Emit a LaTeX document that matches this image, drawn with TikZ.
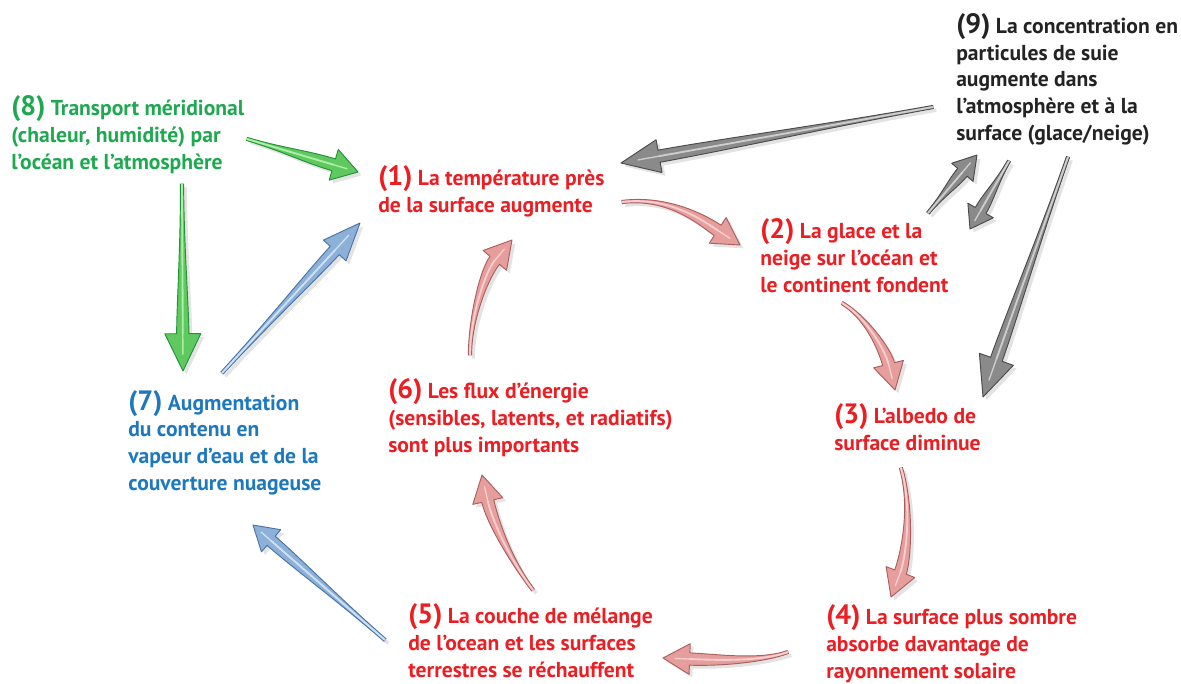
\documentclass[tikz,border=0pt]{standalone}
\usepackage{fontspec}
\setmainfont{PT Sans}
\usetikzlibrary{calc,shadows}
\definecolor{cred}{RGB}{235,30,35}
\definecolor{cgreen}{RGB}{30,168,80}
\definecolor{cblue}{RGB}{30,120,190}
\definecolor{cblack}{RGB}{35,35,35}
\definecolor{pkfill}{RGB}{230,158,156}
\definecolor{pkedge}{RGB}{170,95,95}
\definecolor{pkhi}{RGB}{248,205,205}
\definecolor{gyfill}{RGB}{138,138,138}
\definecolor{gyedge}{RGB}{75,75,75}
\definecolor{gyhi}{RGB}{205,205,205}
\definecolor{gnfill}{RGB}{95,200,95}
\definecolor{gnedge}{RGB}{35,145,60}
\definecolor{gnhi}{RGB}{175,238,165}
\definecolor{blfill}{RGB}{140,176,216}
\definecolor{bledge}{RGB}{75,115,165}
\definecolor{blhi}{RGB}{205,225,245}
\def\wa{1.2pt}
\def\wb{4.6pt}
% #1 colour set, #2 tail, #3 control 1, #4 control 2, #5 tip, #6 head length, #7 head half width
\newcommand\fatarrow[7]{%
  \path ($(#5)!#6!(#4)$) coordinate (fH)
        ($(#2)!\wa!90:(#3)$) coordinate (fAl)
        ($(#2)!\wa!-90:(#3)$) coordinate (fAr)
        ($(#3)!\wa!-90:(#2)$) coordinate (fC1l)
        ($(#3)!\wa!90:(#2)$) coordinate (fC1r)
        ($(#4)!\wb!90:(#5)$) coordinate (fC2l)
        ($(#4)!\wb!-90:(#5)$) coordinate (fC2r);
  \path ($(fH)!\wb!90:(#5)$) coordinate (fHl0)
        ($(fH)!\wb!-90:(#5)$) coordinate (fHr0)
        ($(fH)!#7!90:(#5)$) coordinate (fHl)
        ($(fH)!#7!-90:(#5)$) coordinate (fHr);
  \filldraw[fill=#1fill, draw=#1edge, line width=0.7pt, line join=round,
     drop shadow={shadow xshift=2.5pt, shadow yshift=-2.5pt, opacity=0.22}]
     (fAl) .. controls (fC1l) and (fC2l) .. (fHl0) -- (fHl) -- (#5) -- (fHr) -- (fHr0)
     .. controls (fC2r) and (fC1r) .. (fAr) -- cycle;
  \draw[#1hi, line width=1.4pt, line cap=round] (#2) .. controls (#3) and (#4) .. (fH);
  \draw[#1hi, line width=1pt, line cap=round] (fH) -- ($(fH)!0.55!(#5)$);
}
\tikzset{
  lbl/.style={anchor=base west, align=left, inner sep=0pt,
    font=\bfseries\fontsize{16.2}{19.9}\selectfont},
}
\newcommand\num[1]{{\fontsize{21}{20}\selectfont(#1)}}
\begin{document}
\begin{tikzpicture}[x=0.75pt,y=-0.75pt]
\useasboundingbox (0,0) rectangle (1181,683);
% text nodes (anchored at the baseline of their last line)
\node[lbl, text=cblack] (n9) at (956,140) {\num{9} La concentration en\\particules de suie\\augmente dans\\l’atmosphère et à la\\surface (glace/neige)};
\node[lbl, text=cgreen] (n8) at (11,169) {\num{8} Transport méridional\\(chaleur, humidité) par\\l’océan et l’atmosphère};
\node[lbl, text=cred] (n1) at (378,212) {\num{1} La température près\\de la surface augmente};
\node[lbl, text=cred] (n2) at (760,292) {\num{2} La glace et la\\neige sur l’océan et\\le continent fondent};
\node[lbl, text=cred] (n3) at (834,450) {\num{3} L’albedo de\\surface diminue};
\node[lbl, text=cred] (n4) at (826,678) {\num{4} La surface plus sombre\\absorbe davantage de\\rayonnement solaire};
\node[lbl, text=cred] (n5) at (408,677) {\num{5} La couche de mélange\\de l’ocean et les surfaces\\terrestres se réchauffent};
\node[lbl, text=cred] (n6) at (388,452) {\num{6} Les flux d’énergie\\(sensibles, latents, et radiatifs)\\sont plus importants};
\node[lbl, text=cblue] (n7) at (128,490) {\num{7} Augmentation\\du contenu en\\vapeur d’eau et de la\\couverture nuageuse};
% arrow end points
\coordinate (g1t) at (933,107);  \coordinate (g1h) at (621,163);
\coordinate (g2t) at (928,213);  \coordinate (g2h) at (977,155);
\coordinate (g3t) at (1009,161); \coordinate (g3h) at (970,229);
\coordinate (g4t) at (1068,157); \coordinate (g4h) at (983,397);
\coordinate (e1t) at (247,139);  \coordinate (e1h) at (358,172);
\coordinate (e2t) at (182,184);  \coordinate (e2h) at (183,371);
\coordinate (b1t) at (222,373);  \coordinate (b1h) at (360,223);
\coordinate (b2t) at (385,640);  \coordinate (b2h) at (253,525);
\coordinate (p12t) at (622,202); \coordinate (p12h) at (740,245);
\coordinate (p23t) at (842,303); \coordinate (p23h) at (895,390);
\coordinate (p34t) at (901,468); \coordinate (p34h) at (891,597);
\coordinate (p45t) at (788,652); \coordinate (p45h) at (663,658);
\coordinate (p56t) at (533,590); \coordinate (p56h) at (482,475);
\coordinate (p61t) at (470,355); \coordinate (p61h) at (512,240);
% grey arrows
\fatarrow{gy}{g1t}{$(g1t)!0.33!(g1h)$}{$(g1t)!0.66!(g1h)$}{g1h}{29pt}{12.5pt}
\fatarrow{gy}{g2t}{$(g2t)!0.33!(g2h)$}{$(g2t)!0.5!(g2h)$}{g2h}{17pt}{10.5pt}
\fatarrow{gy}{g3t}{$(g3t)!0.33!(g3h)$}{$(g3t)!0.5!(g3h)$}{g3h}{16pt}{11pt}
\fatarrow{gy}{g4t}{$(g4t)!0.33!(g4h)$}{$(g4t)!0.66!(g4h)$}{g4h}{30pt}{13.5pt}
% green arrows
\fatarrow{gn}{e1t}{$(e1t)!0.33!(e1h)$}{$(e1t)!0.5!(e1h)$}{e1h}{19pt}{12pt}
\fatarrow{gn}{e2t}{$(e2t)!0.33!(e2h)$}{$(e2t)!0.66!(e2h)$}{e2h}{28pt}{13.5pt}
% blue arrows
\fatarrow{bl}{b1t}{$(b1t)!0.33!(b1h)$}{$(b1t)!0.66!(b1h)$}{b1h}{28pt}{11.5pt}
\fatarrow{bl}{b2t}{$(b2t)!0.33!(b2h)$}{$(b2t)!0.66!(b2h)$}{b2h}{18pt}{11pt}
% pink (curved) arrows
\fatarrow{pk}{p12t}{670,196}{705,222}{p12h}{20pt}{11.5pt}
\fatarrow{pk}{p23t}{866,317}{885,350}{p23h}{20pt}{11.5pt}
\fatarrow{pk}{p34t}{913,510}{905,560}{p34h}{20pt}{11.5pt}
\fatarrow{pk}{p45t}{760,662}{715,660}{p45h}{20pt}{11.5pt}
\fatarrow{pk}{p56t}{510,560}{492,520}{p56h}{20pt}{11.5pt}
\fatarrow{pk}{p61t}{470,318}{485,272}{p61h}{20pt}{11.5pt}
\end{tikzpicture}
\end{document}
